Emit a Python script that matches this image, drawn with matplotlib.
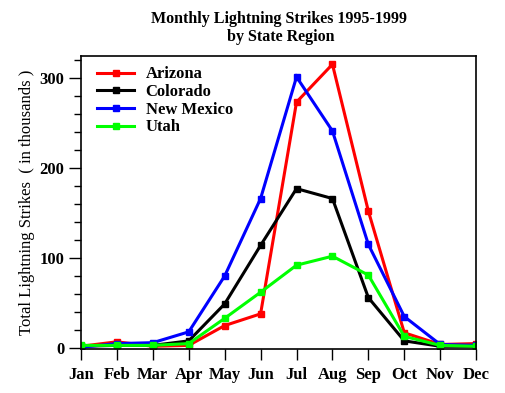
import matplotlib
matplotlib.use("Agg")
import matplotlib.pyplot as plt
from matplotlib.legend_handler import HandlerLine2D
from matplotlib.ticker import MultipleLocator

months = ["Jan", "Feb", "Mar", "Apr", "May", "Jun", "Jul", "Aug", "Sep", "Oct", "Nov", "Dec"]
arizona = [2, 7, 2, 3, 25, 38, 273, 315, 152, 17, 4, 5]
colorado = [2, 3, 3, 8, 49, 114, 177, 166, 56, 8, 2, 2]
new_mexico = [1, 5, 6, 18, 80, 166, 301, 241, 115, 35, 4, 3]
utah = [3, 3, 3, 5, 33, 62, 92, 102, 81, 13, 3, 2]

series = [("Arizona", arizona, "#ff0000"),
          ("Colorado", colorado, "#000000"),
          ("New Mexico", new_mexico, "#0000ff"),
          ("Utah", utah, "#00ff00")]

plt.rcParams['font.family'] = ['Liberation Serif', 'DejaVu Serif']

fig = plt.figure(figsize=(5.06, 3.93), dpi=100)
ax = fig.add_axes([0.160, 0.112, 0.781, 0.745])

x = list(range(len(months)))
for name, vals, col in series:
    ax.plot(x, vals, color=col, lw=2.2, marker='s', ms=5, mec=col, mfc=col,
            label=name, solid_joinstyle='miter')

ax.set_xlim(0, 11)
ax.set_ylim(-1, 324)
ax.set_xticks(x)
ax.set_xticklabels(months, fontsize=12, fontweight='bold')
ax.yaxis.set_major_locator(MultipleLocator(100))
ax.yaxis.set_minor_locator(MultipleLocator(20))
for lab in ax.get_yticklabels():
    lab.set_fontsize(12)
    lab.set_fontweight('bold')
ax.tick_params(axis='y', which='major', direction='out', length=9, width=1, pad=3)
ax.tick_params(axis='y', which='minor', direction='out', length=5, width=1)
ax.tick_params(axis='x', which='major', direction='out', length=8, width=1, pad=5)
for s in ax.spines.values():
    s.set_linewidth(1.2)

ax.set_ylabel("Total Lightning Strikes  ( in thousands )", fontsize=12, labelpad=3)
ax.set_title("Monthly Lightning Strikes 1995-1999\n by State Region", fontsize=11.5,
             fontweight='bold', pad=11, linespacing=1.2)


class EndMarkerHandler(HandlerLine2D):
    def get_xdata(self, legend, xdescent, ydescent, width, height, fontsize):
        xdata = [-xdescent, -xdescent + width]
        xmark = [-xdescent + 0.72 * width]
        return xdata, xmark


handles, labels = ax.get_legend_handles_labels()
leg = ax.legend(handles, labels, loc='upper left', frameon=False,
                prop={'size': 12, 'weight': 'bold'}, handlelength=2.2,
                handletextpad=0.7, labelspacing=0.1, borderaxespad=0.3,
                bbox_to_anchor=(0.012, 1.005),
                handler_map={h: EndMarkerHandler() for h in handles})

fig.savefig("out.png", dpi=100)
